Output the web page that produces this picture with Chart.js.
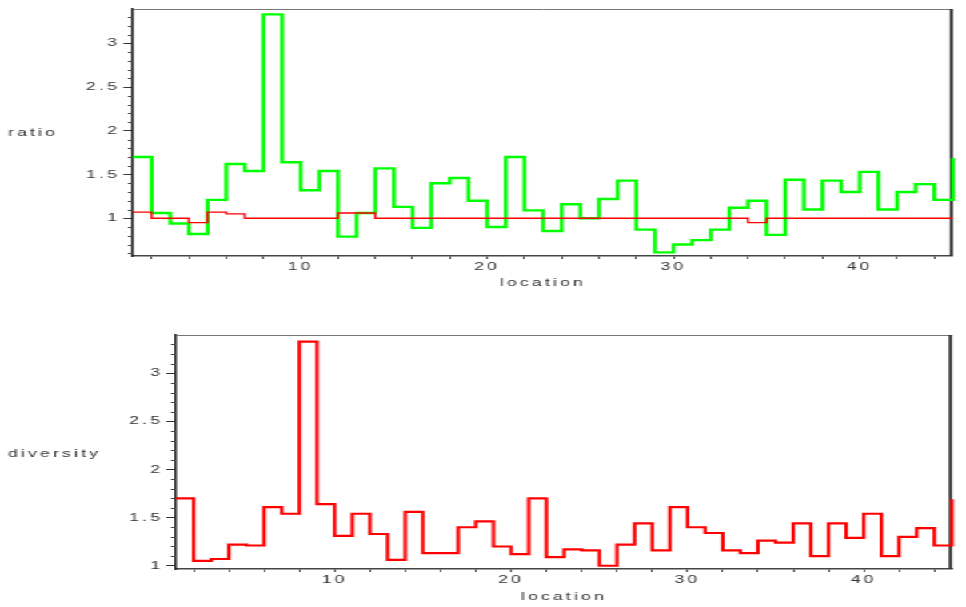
<!DOCTYPE html>
<html>
<head>
<meta charset="utf-8">
<script src="https://cdn.jsdelivr.net/npm/chart.js@4.4.1/dist/chart.umd.min.js"></script>
<style>
  html, body { margin: 0; padding: 0; background: #fff; overflow: hidden; }
  /* Both panels are drawn on a narrow sheet that is widened horizontally. */
  #sheet { position: absolute; left: 0; top: 0; width: 604px; height: 607px;
           transform: scaleX(1.59934); transform-origin: 0 0; }
  #sheet canvas { position: absolute; left: 0; }
</style>
</head>
<body>
<div id="sheet">
  <canvas id="ratioChart" width="604" height="300" style="top:0;width:604px;height:300px"></canvas>
  <canvas id="diversityChart" width="604" height="307" style="top:300px;width:604px;height:307px"></canvas>
</div>
<script>
// ---- data: one value per location, held until the next location ----
const locations = [1, 2, 3, 4, 5, 6, 7, 8, 9, 10, 11, 12, 13, 14, 15, 16, 17, 18, 19, 20,
  21, 22, 23, 24, 25, 26, 27, 28, 29, 30, 31, 32, 33, 34, 35, 36, 37, 38, 39, 40,
  41, 42, 43, 44, 45];

const ratioValues = [1.70, 1.06, 0.94, 0.82, 1.21, 1.62, 1.54, 3.33, 1.64, 1.32,
  1.54, 0.79, 1.06, 1.57, 1.13, 0.89, 1.40, 1.46, 1.20, 0.90,
  1.70, 1.09, 0.855, 1.16, 1.00, 1.22, 1.43, 0.87, 0.61, 0.70,
  0.75, 0.87, 1.12, 1.20, 0.81, 1.44, 1.10, 1.43, 1.30, 1.53,
  1.10, 1.30, 1.39, 1.21, 1.69];

const baselineValues = [1.07, 1.00, 1.00, 0.95, 1.07, 1.05, 1.00, 1.00, 1.00, 1.00,
  1.00, 1.06, 1.06, 1.00, 1.00, 1.00, 1.00, 1.00, 1.00, 1.00,
  1.00, 1.00, 1.00, 1.00, 1.00, 1.00, 1.00, 1.00, 1.00, 1.00,
  1.00, 1.00, 1.00, 0.95, 1.00, 1.00, 1.00, 1.00, 1.00, 1.00,
  1.00, 1.00, 1.00, 1.00, 1.00];

const diversityValues = [1.70, 1.05, 1.07, 1.22, 1.21, 1.61, 1.54, 3.33, 1.64, 1.31,
  1.54, 1.33, 1.06, 1.56, 1.13, 1.13, 1.40, 1.46, 1.20, 1.12,
  1.70, 1.09, 1.17, 1.16, 1.00, 1.22, 1.44, 1.16, 1.61, 1.40,
  1.34, 1.16, 1.13, 1.26, 1.24, 1.44, 1.10, 1.44, 1.29, 1.54,
  1.10, 1.30, 1.39, 1.21, 1.69];

// ---- axis ticks ----
const xTickValues = [2, 4, 6, 8, 10, 12, 14, 16, 18, 20, 22, 24, 26, 28, 30,
  32, 34, 36, 38, 40, 42, 44];
const xTickLabels = [10, 20, 30, 40];
const yMajorTicks = [1, 1.5, 2, 2.5, 3];
const ratioMinorTicks = [0.6, 0.7, 0.8, 0.9, 1.1, 1.2, 1.3, 1.4, 1.6, 1.7, 1.8, 1.9,
  2.1, 2.2, 2.3, 2.4, 2.6, 2.7, 2.8, 2.9, 3.1, 3.2, 3.3];
const diversityMinorTicks = [1.1, 1.2, 1.3, 1.4, 1.6, 1.7, 1.8, 1.9,
  2.1, 2.2, 2.3, 2.4, 2.6, 2.7, 2.8, 2.9, 3.1, 3.2, 3.3];

// ---- look ----
const STRETCH = 966 / 604;
const TEXT = '#333';
const FONT_FAMILY = '"Liberation Sans", Arial, sans-serif';
const FONT = { family: FONT_FAMILY, size: 11 };

function points(values) {
  return locations.map((x, i) => ({ x: x, y: values[i] }));
}

// Frame edges, minor y ticks and the axis titles.
const panelDecor = {
  id: 'panelDecor',
  beforeDraw(chart) {
    chart.ctx.letterSpacing = '2px';
  },
  beforeDatasetsDraw(chart, args, opts) {
    const { ctx, chartArea: a, scales } = chart;
    ctx.save();
    ctx.strokeStyle = '#777';
    ctx.lineWidth = 1;
    ctx.beginPath();
    ctx.moveTo(a.left, a.top + 0.5);
    ctx.lineTo(a.right, a.top + 0.5);
    ctx.stroke();
    ctx.strokeStyle = '#333';
    ctx.lineWidth = 2;
    ctx.beginPath();
    ctx.moveTo(a.right - 1, a.top);
    ctx.lineTo(a.right - 1, a.bottom);
    ctx.stroke();
    ctx.strokeStyle = '#444';
    ctx.lineWidth = 1;
    ctx.beginPath();
    for (const v of opts.minorTicks) {
      const py = Math.round(scales.y.getPixelForValue(v)) + 0.5;
      ctx.moveTo(a.left - 3.2, py);
      ctx.lineTo(a.left, py);
    }
    ctx.stroke();
    ctx.restore();
  },
  afterDraw(chart, args, opts) {
    const { ctx, chartArea: a } = chart;
    ctx.save();
    ctx.fillStyle = TEXT;
    ctx.font = '11px ' + FONT_FAMILY;
    ctx.textBaseline = 'middle';
    ctx.textAlign = 'left';
    ctx.fillText(opts.yTitle, 5, opts.yTitleY);
    ctx.textAlign = 'center';
    ctx.fillText(opts.xTitle, (a.left + a.right) / 2, opts.xTitleY);
    ctx.restore();
    ctx.letterSpacing = '0px';
  }
};

function makePanel(canvasId, datasets, geo) {
  const left = geo.left / STRETCH;
  const right = geo.right / STRETCH;
  return new Chart(document.getElementById(canvasId), {
    type: 'line',
    data: { datasets: datasets },
    plugins: [panelDecor],
    options: {
      responsive: false,
      maintainAspectRatio: false,
      animation: false,
      devicePixelRatio: 1,
      events: [],
      layout: { padding: { left: 0, right: 604 - right, top: geo.top, bottom: 0 } },
      elements: { point: { radius: 0 }, line: { tension: 0 } },
      plugins: {
        legend: { display: false },
        tooltip: { enabled: false },
        panelDecor: {
          minorTicks: geo.minorTicks,
          yTitle: geo.yTitle, yTitleY: geo.yTitleY,
          xTitle: 'location', xTitleY: geo.xTitleY
        }
      },
      scales: {
        x: {
          type: 'linear', min: 1, max: 45,
          afterBuildTicks: s => { s.ticks = xTickValues.map(value => ({ value })); },
          afterFit: s => { s.height = geo.height - geo.bottom; },
          ticks: {
            autoSkip: false, maxRotation: 0, minRotation: 0, padding: 1,
            color: TEXT, font: FONT,
            callback: v => (xTickLabels.includes(v) ? String(v) : '')
          },
          grid: { drawOnChartArea: false, tickLength: 3, tickColor: '#444', tickWidth: 1 },
          border: { display: true, color: '#444', width: 1.5 }
        },
        y: {
          type: 'linear', min: geo.yMin, max: geo.yMax,
          afterBuildTicks: s => { s.ticks = yMajorTicks.map(value => ({ value })); },
          afterFit: s => { s.width = left; },
          ticks: { padding: 2, color: TEXT, font: FONT, callback: v => String(v) },
          grid: { drawOnChartArea: false, tickLength: 6, tickColor: '#333', tickWidth: 1 },
          border: { display: true, color: '#222', width: 1.5 }
        }
      }
    }
  });
}

const stepLine = {
  stepped: true, pointRadius: 0, fill: false, clip: false,
  borderJoinStyle: 'miter', borderCapStyle: 'butt'
};

makePanel('ratioChart', [
  Object.assign({ label: 'baseline', data: points(baselineValues),
    borderColor: '#ff0000', borderWidth: 1.4, order: 0 }, stepLine),
  Object.assign({ label: 'ratio', data: points(ratioValues),
    borderColor: '#00ff00', borderWidth: 2.4, order: 1 }, stepLine)
], {
  left: 133, right: 953, top: 9, bottom: 256, height: 300,
  yMin: 0.569, yMax: 3.392, minorTicks: ratioMinorTicks,
  yTitle: 'ratio', yTitleY: 133, xTitleY: 283
});

makePanel('diversityChart', [
  Object.assign({ label: 'diversity', data: points(diversityValues),
    borderColor: '#ff0000', borderWidth: 2.2, order: 0 }, stepLine)
], {
  left: 176, right: 952, top: 35, bottom: 269, height: 307,
  yMin: 0.966, yMax: 3.398, minorTicks: diversityMinorTicks,
  yTitle: 'diversity', yTitleY: 154, xTitleY: 297
});
</script>
</body>
</html>
